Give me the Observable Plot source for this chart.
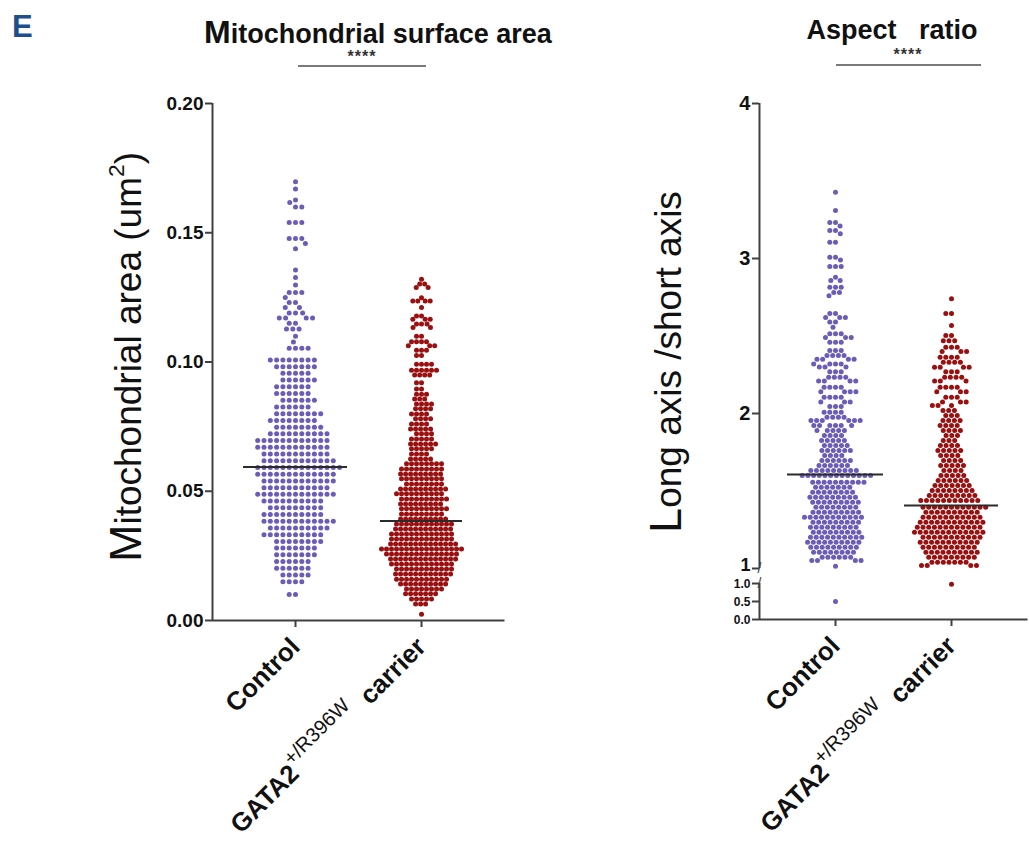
<!DOCTYPE html>
<html><head><meta charset="utf-8">
<script src="https://cdn.jsdelivr.net/npm/d3@7"></script>
<script src="https://cdn.jsdelivr.net/npm/@observablehq/plot@0.6"></script>
<style>
body{margin:0;background:#fff;font-family:"Liberation Sans",Arial,sans-serif;}
#root{position:relative;width:1029px;height:847px;overflow:hidden;background:#fff;}
.abs{position:absolute;white-space:pre;line-height:1;}
.panel{position:absolute;top:0;}
sup{font-size:0.62em;vertical-align:0;position:relative;top:-0.75em;}
</style></head><body><div id="root"></div>
<script>
// ---------- data ----------
const groups = ["Control", "GATA2 carrier"];

// [value, number of dots in that row]
const areaControlRows = [
  [0.1697,1],[0.1669,1],[0.1627,1],[0.1617,1],[0.1600,2],[0.1540,3],[0.1478,3],[0.1458,1],
  [0.1438,1],[0.1356,1],[0.1327,1],[0.1298,1],[0.1269,3],[0.1250,1],[0.1230,2],[0.1211,2],
  [0.1190,3],[0.1170,4],[0.1150,2],[0.1128,3],[0.1100,1],[0.1077,1],[0.1053,4],
  [0.1008,8],[0.0982,7],[0.0956,5],[0.0930,6],[0.0904,6],[0.0878,6],[0.0852,6],[0.0826,6],
  [0.0800,8],[0.0774,8],[0.0748,8],[0.0722,10],[0.0696,12],[0.0670,12],[0.0644,11],[0.0618,12],
  [0.0592,14],[0.0566,13],[0.0540,12],[0.0514,11],[0.0488,13],[0.0462,10],[0.0436,9],[0.0410,10],
  [0.0384,12],[0.0358,10],[0.0332,10],[0.0306,8],[0.0280,7],[0.0254,7],[0.0228,6],[0.0202,6],
  [0.0176,5],[0.0150,4],[0.0101,2]
];
const areaCarrierRows = [
  [0.1320,1],[0.1302,2],[0.1288,2],[0.1249,1],[0.1236,4],[0.1211,1],[0.1178,2],[0.1165,3],
  [0.1147,3],[0.1133,2],[0.1100,2],[0.1078,4],[0.1063,3],[0.1045,3],[0.1025,2],[0.0991,4],
  [0.0968,6],[0.0950,4],[0.0920,2],[0.0896,2],[0.0875,3],[0.0857,3],[0.0838,4],[0.0819,4],
  [0.0799,4],[0.0780,4],[0.0760,4],[0.0741,5],[0.0722,4],[0.0702,5],[0.0683,6],[0.0664,5],
  [0.0644,4],[0.0625,5],[0.0606,8],[0.0586,9],[0.0567,9],[0.0548,9],[0.0528,8],[0.0509,10],
  [0.0490,10],[0.0470,10],[0.0451,9],[0.0432,10],[0.0412,9],[0.0393,10],[0.0373,12],[0.0354,12],
  [0.0335,13],[0.0315,13],[0.0296,14],[0.0277,17],[0.0257,15],[0.0238,14],[0.0219,13],[0.0199,12],
  [0.0180,12],[0.0160,11],[0.0141,10],[0.0122,8],[0.0103,7],[0.0083,5],[0.0064,3],[0.0024,1]
];
const ratioControlRows = [
  [3.428,1],[3.310,1],[3.232,2],[3.210,1],[3.180,2],[3.160,1],[3.105,2],[3.008,2],[2.990,1],
  [2.948,3],[2.879,1],[2.858,2],[2.815,3],[2.780,2],[2.760,1],[2.645,2],[2.620,3],[2.590,2],
  [2.557,1],[2.514,3],[2.490,3],[2.460,3],[2.406,3],[2.374,4],[2.350,4],[2.320,4],[2.300,3],
  [2.270,3],[2.234,4],[2.210,4],[2.170,4],[2.140,4],[2.105,4],[2.075,3],[2.045,3],[2.008,4],
  [1.976,4],[1.955,6],[1.923,6],[1.890,5],[1.858,4],[1.826,5],[1.794,5],[1.761,6],[1.729,4],
  [1.697,6],[1.665,6],[1.632,9],[1.600,13],[1.557,10],[1.525,7],[1.492,8],[1.460,9],
  [1.428,9],[1.395,8],[1.363,9],[1.331,11],[1.299,9],[1.266,9],[1.234,9],[1.202,10],[1.170,10],
  [1.137,9],[1.105,8],[1.073,6],[1.052,4],[1.015,1],[0.500,1]
];
const ratioCarrierRows = [
  [2.740,1],[2.645,2],[2.568,1],[2.503,2],[2.470,3],[2.428,3],[2.400,3],[2.363,4],
  [2.330,4],[2.299,4],[2.270,3],[2.234,4],[2.210,3],[2.170,4],[2.140,3],[2.105,3],[2.075,3],
  [2.052,3],[2.020,3],[1.987,3],[1.955,4],[1.923,4],[1.890,4],[1.858,3],[1.826,3],[1.794,4],
  [1.761,5],[1.729,4],[1.697,4],[1.665,5],[1.632,4],[1.600,5],[1.568,6],[1.535,7],[1.503,8],
  [1.471,9],[1.439,11],[1.395,12],[1.363,10],[1.331,11],[1.299,12],[1.266,12],[1.234,13],
  [1.202,11],[1.170,11],[1.137,10],[1.105,10],[1.073,9],[1.040,7],[1.019,4],[0.980,1]
];

const areaMedians = [0.0594, 0.0385];
const ratioMedians = [1.606, 1.406];

const areaTicks = [0, 0.05, 0.10, 0.15, 0.20];
const ratioTicksUpper = [1, 2, 3, 4];
const ratioTicksLower = [0, 0.5, 0.9999];   // lower (broken) segment, labelled 0.0, 0.5, 1.0
const ratioBreaks = [1, 0.9999];

// ---------- helpers ----------
const purple = "#6c5cb8", darkRed = "#9a1010", axisColor = "#404040";
const expand = (rows, group) => rows.flatMap(([v, n]) => Array.from({length: n}, () => ({group, value: v})));
const font = "'Liberation Sans', Arial, sans-serif";

function dots(rows, group, fill, padding) {
  return Plot.dot(expand(rows, group), Plot.dodgeX({anchor: "middle", padding}, {
    fx: "group", y: "value", r: 2.5, fill, stroke: "none"
  }));
}
function median(value, group, inset) {
  return Plot.ruleY([{group, value}], {fx: "group", y: "value", insetLeft: inset, insetRight: inset, stroke: "#2b2b2b", strokeWidth: 2});
}
function decorate(svg) {
  const ns = "http://www.w3.org/2000/svg";
  svg.querySelectorAll("text").forEach(t => {
    if (t.textContent === groups[1]) {
      t.textContent = "";
      const a = document.createElementNS(ns, "tspan"); a.textContent = "GATA2";
      const b = document.createElementNS(ns, "tspan"); b.textContent = "+/R396W";
      b.setAttribute("font-size", "20"); b.setAttribute("font-weight", "normal"); b.setAttribute("dy", "-13");
      const c = document.createElementNS(ns, "tspan"); c.textContent = "\u00a0 carrier"; c.setAttribute("dy", "13");
      t.append(a, b, c);
    }
  });
  return svg;
}
const fxAxis = () => Plot.axisFx({anchor: "bottom", tickSize: 7, tickPadding: 15, tickRotate: -45, fontSize: 26, fontWeight: "bold", label: null, stroke: axisColor, strokeWidth: 2, fill: "#111"});
// horizontal axis line drawn as one segment per facet, stretched out to the frame edges
function baseLine(gap) {
  return [
    Plot.ruleY([{group: groups[0]}], {fx: "group", y: 0, insetLeft: -gap, stroke: axisColor, strokeWidth: 2}),
    Plot.ruleY([{group: groups[1]}], {fx: "group", y: 0, insetRight: -gap - 0.5, stroke: axisColor, strokeWidth: 2})
  ];
}
function outerGap(frameWidth, po) { const step = frameWidth / (2 + 2 * po); return po * step; }

// ---------- left panel ----------
const L = {width: 520, marginLeft: 211, marginRight: 15, po: 0.1575};
const gapL = outerGap(L.width - L.marginLeft - L.marginRight, L.po);
const firstL = [{group: groups[0]}];
const left = Plot.plot({
  width: L.width, height: 847,
  marginLeft: L.marginLeft, marginRight: L.marginRight, marginTop: 103, marginBottom: 227,
  style: {fontFamily: font, color: "#111", background: "transparent", overflow: "visible"},
  fx: {domain: groups, paddingInner: 0, paddingOuter: L.po},
  x: {domain: [0, 1], axis: null},
  y: {domain: [0, 0.2], axis: null},
  marks: [
    Plot.ruleX(firstL, {fx: "group", x: 0, y1: 0, y2: 0.2, dx: -gapL, stroke: axisColor, strokeWidth: 2}),
    ...baseLine(gapL),
    Plot.axisY({ticks: areaTicks, tickFormat: d3.format(".2f"), tickSize: 7, tickPadding: 2, dx: -gapL, fontSize: 19, fontWeight: "bold", label: null, stroke: axisColor, strokeWidth: 2, fill: "#111"}),
    fxAxis(),
    dots(areaControlRows, groups[0], purple, 1.3),
    dots(areaCarrierRows, groups[1], darkRed, 0),
    median(areaMedians[0], groups[0], 11),
    median(areaMedians[1], groups[1], 22)
  ]
});

// ---------- right panel ----------
const R = {width: 509, marginLeft: 238, marginRight: 1, po: 0.154};
const gapR = outerGap(R.width - R.marginLeft - R.marginRight, R.po);
const firstR = [{group: groups[0]}];
const yAxisR = {tickPadding: 2, dx: -gapR, fontWeight: "bold", label: null, stroke: axisColor, strokeWidth: 2};
const right = Plot.plot({
  width: R.width, height: 847,
  marginLeft: R.marginLeft, marginRight: R.marginRight, marginTop: 103, marginBottom: 228,
  style: {fontFamily: font, color: "#111", background: "transparent", overflow: "visible"},
  fx: {domain: groups, paddingInner: 0, paddingOuter: R.po},
  x: {domain: [0, 1], axis: null},
  y: {type: "linear", domain: [0, 1, 1, 4], range: [619, 583, 568, 103], axis: null},
  marks: [
    Plot.ruleX(firstR, {fx: "group", x: 0, y1: 1, y2: 4, dx: -gapR, stroke: axisColor, strokeWidth: 2}),
    Plot.ruleX(firstR, {fx: "group", x: 0, y1: 0, y2: 0.9999, dx: -gapR, stroke: axisColor, strokeWidth: 2}),
    ...baseLine(gapR),
    Plot.text(ratioBreaks.map(v => ({group: groups[0], v})), {fx: "group", y: "v", text: () => "/", frameAnchor: "left", textAnchor: "middle", dx: -gapR, fontSize: 14, fill: axisColor}),
    // tick marks
    Plot.axisY({...yAxisR, ticks: [...ratioTicksUpper, ...ratioTicksLower], tickSize: 7, fill: "none"}),
    // tick labels
    Plot.axisY({...yAxisR, ticks: ratioTicksUpper.slice(1), tickFormat: d3.format("d"), tickSize: 0, tickPadding: 9, fontSize: 20, fill: "#111"}),
    Plot.axisY({...yAxisR, ticks: ratioTicksUpper.slice(0, 1), tickFormat: d3.format("d"), tickSize: 0, tickPadding: 9, fontSize: 18, fill: "#111", dy: -3}),
    Plot.axisY({...yAxisR, ticks: ratioTicksLower, tickFormat: d3.format(".1f"), tickSize: 0, tickPadding: 9, fontSize: 12, fill: "#111", dy: 1}),
    fxAxis(),
    dots(ratioControlRows, groups[0], purple, 0.7),
    dots(ratioCarrierRows, groups[1], darkRed, 0.7),
    median(ratioMedians[0], groups[0], 10),
    median(ratioMedians[1], groups[1], 11)
  ]
});

// ---------- assemble ----------
const root = document.getElementById("root");
function add(el, x) { const w = document.createElement("div"); w.className = "panel"; w.style.left = x + "px"; w.appendChild(el); root.appendChild(w); }
add(decorate(left), 0);
add(decorate(right), 520);

function label(html, css) {
  const d = document.createElement("div"); d.className = "abs"; d.innerHTML = html; Object.assign(d.style, css); root.appendChild(d); return d;
}
label("E", {left: "12px", top: "11px", fontSize: "31px", fontWeight: "bold", color: "#1d4f8c"});
label('<span style="font-size:32px">M</span>itochondrial surface area', {left: "378px", top: "16px", transform: "translateX(-50%)", fontSize: "27px", fontWeight: "bold", color: "#111"});
label("****", {left: "362px", top: "49px", transform: "translateX(-50%)", fontSize: "16px", fontWeight: "bold", color: "#333", letterSpacing: "1px"});
label("", {left: "298px", top: "65px", width: "128px", height: "0px", borderTop: "2px solid #7a7a7a"});
label("Aspect   ratio", {left: "892px", top: "17px", transform: "translateX(-50%)", fontSize: "27px", fontWeight: "bold", color: "#111"});
label("****", {left: "908px", top: "47px", transform: "translateX(-50%)", fontSize: "16px", fontWeight: "bold", color: "#333", letterSpacing: "1px"});
label("", {left: "836px", top: "64px", width: "145px", height: "0px", borderTop: "2px solid #7a7a7a"});
label('<span style="font-size:45px">M</span>itochondrial area (um<sup>2</sup>)', {left: "125px", top: "357px", transform: "translate(-50%,-50%) rotate(-90deg)", fontSize: "37px", color: "#111"});
label('<span style="font-size:45px">L</span>ong axis /short axis', {left: "665px", top: "362px", transform: "translate(-50%,-50%) rotate(-90deg)", fontSize: "37px", color: "#111"});
</script></body></html>
